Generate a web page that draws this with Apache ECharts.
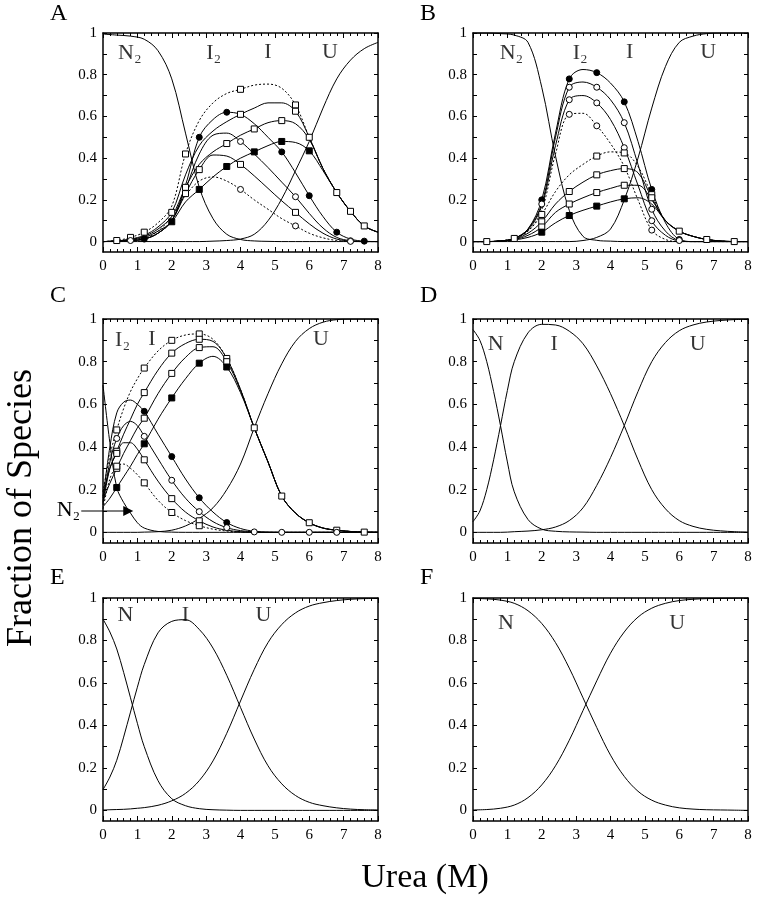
<!DOCTYPE html>
<html><head><meta charset="utf-8">
<script src="https://cdn.jsdelivr.net/npm/echarts@6/dist/echarts.min.js"></script>
<style>html,body{margin:0;padding:0;background:#fff}#c{width:759px;height:899px}</style>
</head><body><div id="c"></div>
<script>
// ---------- x grids ----------
const X04 = [0,0.4,0.8,1.2,1.6,2.0,2.4,2.8,3.2,3.6,4.0,4.4,4.8,5.2,5.6,6.0,6.4,6.8,7.2,7.6,8.0];
const X02 = [0,0.2,0.4,0.6,0.8,1.0,1.2,1.6,2.0,2.4,2.8,3.2,3.6,4.0,4.4,4.8,5.2,5.6,6.0,6.4,6.8,7.2,7.6,8.0];
const X_TICK_LABELS = [0,1,2,3,4,5,6,7,8];
const Y_LABELS = [0,0.2,0.4,0.6,0.8,1];
const Y_TICKS = [0,0.1,0.2,0.3,0.4,0.5,0.6,0.7,0.8,0.9,1];

// ---------- Panel A (X04) ----------
const A_N2  = [0.995,0.99,0.985,0.97,0.915,0.78,0.52,0.26,0.11,0.035,0.01,0.003,0.001,0,0,0,0,0,0,0,0];
const A_U   = [0,0,0,0,0,0,0,0,0.002,0.005,0.012,0.035,0.1,0.205,0.34,0.48,0.64,0.78,0.87,0.925,0.955];
const A_Ia  = [0,0.005,0.02,0.045,0.09,0.17,0.42,0.58,0.665,0.71,0.73,0.75,0.755,0.735,0.655,0.5,0.35,0.235,0.145,0.075,0.045];
const A_Ib  = [0,0.003,0.012,0.03,0.07,0.14,0.32,0.46,0.53,0.575,0.61,0.64,0.665,0.665,0.625,0.5,0.35,0.235,0.145,0.075,0.045];
const A_Ic  = [0,0.002,0.01,0.025,0.06,0.12,0.26,0.37,0.43,0.47,0.51,0.54,0.57,0.58,0.565,0.49,0.35,0.235,0.145,0.075,0.045];
const A_Id  = [0,0.002,0.008,0.02,0.05,0.095,0.19,0.25,0.31,0.36,0.4,0.43,0.46,0.48,0.475,0.435,0.34,0.235,0.145,0.075,0.045];
const A_I2a = [0,0.002,0.005,0.012,0.04,0.1,0.27,0.5,0.585,0.62,0.61,0.565,0.5,0.43,0.33,0.22,0.12,0.045,0.012,0.002,0];
const A_I2b = [0,0.002,0.005,0.012,0.04,0.1,0.25,0.42,0.51,0.52,0.48,0.42,0.355,0.285,0.215,0.135,0.065,0.02,0.004,0,0];
const A_I2c = [0,0.002,0.005,0.012,0.04,0.1,0.23,0.345,0.415,0.41,0.37,0.315,0.255,0.195,0.14,0.085,0.04,0.012,0.002,0,0];
const A_I2d = [0,0.002,0.006,0.015,0.05,0.12,0.22,0.29,0.31,0.29,0.25,0.2,0.155,0.11,0.075,0.04,0.018,0.005,0.001,0,0];

// ---------- Panel B (X04) ----------
const B_N2  = [1,1,0.997,0.99,0.955,0.74,0.41,0.15,0.025,0.006,0.002,0,0,0,0,0,0,0,0,0,0];
const B_U   = [0,0,0,0,0,0,0,0,0.005,0.02,0.06,0.2,0.4,0.64,0.84,0.955,0.985,0.997,1,1,1];
const B_I2a = [0,0,0.003,0.015,0.06,0.2,0.52,0.78,0.825,0.81,0.76,0.67,0.48,0.25,0.09,0.01,0,0,0,0,0];
const B_I2b = [0,0,0.003,0.015,0.06,0.18,0.5,0.74,0.765,0.74,0.68,0.57,0.37,0.155,0.05,0.005,0,0,0,0,0];
const B_I2c = [0,0,0.003,0.015,0.055,0.17,0.46,0.68,0.7,0.665,0.585,0.45,0.27,0.1,0.03,0.003,0,0,0,0,0];
const B_I2d = [0,0,0.003,0.015,0.05,0.15,0.42,0.61,0.615,0.555,0.47,0.36,0.2,0.055,0.01,0,0,0,0,0,0];
const B_Ia  = [0,0,0.003,0.015,0.05,0.13,0.24,0.32,0.37,0.41,0.43,0.425,0.36,0.225,0.1,0.05,0.025,0.01,0.003,0,0];
const B_Ib  = [0,0,0.003,0.012,0.04,0.095,0.18,0.24,0.285,0.32,0.34,0.35,0.33,0.21,0.1,0.05,0.025,0.01,0.003,0,0];
const B_Ic  = [0,0,0.002,0.01,0.03,0.07,0.14,0.18,0.21,0.235,0.255,0.27,0.27,0.2,0.1,0.05,0.025,0.01,0.003,0,0];
const B_Id  = [0,0,0.002,0.008,0.02,0.045,0.09,0.125,0.15,0.17,0.19,0.205,0.21,0.18,0.1,0.05,0.025,0.01,0.003,0,0];

// ---------- Panel C (X02) ----------
const C_N2  = [0.69,0.42,0.21,0.14,0.09,0.045,0.02,0.004,0.001,0,0,0,0,0,0,0,0,0,0,0,0,0,0,0];
const C_U   = [0,0,0,0,0,0,0.001,0.003,0.01,0.03,0.065,0.115,0.2,0.32,0.49,0.65,0.79,0.895,0.955,0.985,0.997,1,1,1];
const C_Ia  = [0.19,0.36,0.48,0.58,0.66,0.72,0.77,0.85,0.9,0.925,0.93,0.905,0.815,0.67,0.49,0.33,0.17,0.09,0.045,0.02,0.01,0.004,0.001,0];
const C_Ib  = [0.17,0.3,0.38,0.46,0.53,0.6,0.655,0.76,0.84,0.885,0.905,0.895,0.815,0.67,0.49,0.33,0.17,0.09,0.045,0.02,0.01,0.004,0.001,0];
const C_Ic  = [0.15,0.23,0.3,0.37,0.43,0.49,0.535,0.65,0.745,0.82,0.866,0.87,0.8,0.665,0.49,0.33,0.17,0.09,0.045,0.02,0.01,0.004,0.001,0];
const C_Id  = [0.12,0.16,0.21,0.26,0.31,0.365,0.415,0.53,0.63,0.72,0.793,0.825,0.775,0.655,0.49,0.33,0.17,0.09,0.045,0.02,0.01,0.004,0.001,0];
const C_I2a = [0.16,0.4,0.56,0.61,0.62,0.6,0.567,0.46,0.355,0.25,0.162,0.095,0.046,0.018,0.005,0.001,0,0,0,0,0,0,0,0];
const C_I2b = [0.14,0.33,0.44,0.5,0.52,0.5,0.45,0.345,0.244,0.16,0.097,0.05,0.022,0.008,0.002,0,0,0,0,0,0,0,0,0];
const C_I2c = [0.13,0.3,0.37,0.42,0.42,0.39,0.34,0.24,0.158,0.095,0.054,0.025,0.01,0.003,0,0,0,0,0,0,0,0,0,0];
const C_I2d = [0.11,0.25,0.31,0.32,0.3,0.27,0.232,0.15,0.093,0.055,0.031,0.015,0.006,0.002,0,0,0,0,0,0,0,0,0,0];

// ---------- Panel D (X02) ----------
const D_N = [0.95,0.9,0.8,0.66,0.5,0.33,0.19,0.06,0.015,0.005,0.002,0.001,0,0,0,0,0,0,0,0,0,0,0,0];
const D_I = [0.05,0.1,0.2,0.34,0.5,0.665,0.8,0.935,0.975,0.972,0.943,0.884,0.78,0.65,0.5,0.34,0.2,0.11,0.055,0.028,0.014,0.007,0.003,0.001];
const D_U = [0,0,0,0,0,0.001,0.003,0.006,0.012,0.025,0.055,0.115,0.22,0.35,0.5,0.66,0.8,0.89,0.945,0.972,0.986,0.993,0.997,0.999];

// ---------- Panel E (X02) ----------
const E_N = [0.9,0.84,0.76,0.65,0.53,0.41,0.3,0.14,0.055,0.022,0.008,0.003,0.001,0,0,0,0,0,0,0,0,0,0,0];
const E_I = [0.098,0.157,0.236,0.345,0.463,0.58,0.687,0.836,0.89,0.898,0.852,0.764,0.636,0.485,0.336,0.21,0.125,0.07,0.038,0.022,0.012,0.006,0.003,0.002];
const E_U = [0.002,0.003,0.004,0.005,0.007,0.01,0.013,0.024,0.045,0.08,0.14,0.233,0.363,0.515,0.664,0.79,0.875,0.93,0.962,0.978,0.988,0.994,0.997,0.998];

// ---------- Panel F (X04) ----------
const F_N = [0.998,0.996,0.99,0.975,0.94,0.88,0.79,0.67,0.53,0.39,0.26,0.16,0.09,0.048,0.025,0.012,0.006,0.003,0.002,0.001,0];
const F_U = [0.002,0.004,0.01,0.025,0.06,0.12,0.21,0.33,0.47,0.61,0.74,0.84,0.91,0.952,0.975,0.988,0.994,0.997,0.998,0.999,1];

// ---------- configuration ----------
const FONT = "'Liberation Serif','DejaVu Serif','Times New Roman',serif";
const L = 103, R = 473, W = 275;
const ROWS = [{top:33,h:219},{top:319,h:224},{top:598,h:223}];

const panels = [
  {letter:'A', col:L, row:0, xs:X04, curves:[
    {y:A_N2},{y:A_U},
    {y:A_Ia, dotted:true, sym:'rect', mx:[0.4,0.8,1.2,2.4,4.0,5.6]},
    {y:A_Ib, sym:'rect', mx:[2.0,4.0,5.6,6.0,6.8,7.2,7.6]},
    {y:A_Ic, sym:'rect', mx:[2.4,3.6,4.4,5.2]},
    {y:A_Id, sym:'rect', fill:true, mx:[2.0,2.8,3.6,4.4,5.2,6.0]},
    {y:A_I2a, sym:'circle', fill:true, mx:[1.2,2.8,3.6,5.2,6.0,6.8,7.6]},
    {y:A_I2b, sym:'circle', mx:[0.8,4.0,5.6,7.2]},
    {y:A_I2c, sym:'rect', mx:[2.4,2.8,4.0,5.6]},
    {y:A_I2d, dotted:true, sym:'circle', mx:[4.0,5.6,7.2]}],
   labels:[{x:0.78,y:0.905,t:'N₂'},{x:3.22,y:0.905,t:'I₂'},{x:4.8,y:0.91,t:'I'},{x:6.6,y:0.91,t:'U'}]},
  {letter:'B', col:R, row:0, xs:X04, curves:[
    {y:B_N2},{y:B_U},
    {y:B_I2a, sym:'circle', fill:true, mx:[2.0,2.8,3.6,4.4,5.2,6.0]},
    {y:B_I2b, sym:'circle', mx:[2.0,2.8,3.6,4.4,5.2,6.0]},
    {y:B_I2c, sym:'circle', mx:[2.8,3.6,4.4,5.2]},
    {y:B_I2d, dotted:true, sym:'circle', mx:[2.8,3.6,5.2]},
    {y:B_Ia, dotted:true, sym:'rect', mx:[0.4,1.2,2.0,3.6,4.4,5.2,6.0,6.8,7.6]},
    {y:B_Ib, sym:'rect', mx:[2.0,2.8,3.6,4.4,5.2]},
    {y:B_Ic, sym:'rect', mx:[2.0,2.8,3.6,4.4]},
    {y:B_Id, sym:'rect', fill:true, mx:[2.0,2.8,3.6,4.4]}],
   labels:[{x:1.12,y:0.905,t:'N₂'},{x:3.12,y:0.905,t:'I₂'},{x:4.56,y:0.91,t:'I'},{x:6.84,y:0.91,t:'U'}]},
  {letter:'C', col:L, row:1, xs:X02, curves:[
    {y:C_N2},{y:C_U},
    {y:C_Ia, dotted:true, sym:'rect', mx:[0.4,1.2,2.0,2.8,3.6,4.4,5.2,6.0,6.8,7.6]},
    {y:C_Ib, sym:'rect', mx:[0.4,1.2,2.0,2.8]},
    {y:C_Ic, sym:'rect', mx:[0.4,1.2,2.0,2.8,3.6]},
    {y:C_Id, sym:'rect', fill:true, mx:[0.4,1.2,2.0,2.8,3.6]},
    {y:C_I2a, sym:'circle', fill:true, mx:[1.2,2.0,2.8,3.6]},
    {y:C_I2b, sym:'circle', mx:[0.4,1.2,2.0,2.8,3.6,4.4,5.2,6.0,6.8]},
    {y:C_I2c, sym:'rect', mx:[0.4,1.2,2.0,2.8]},
    {y:C_I2d, dotted:true, sym:'rect', mx:[0.4,1.2,2.0,2.8]}],
   labels:[{x:0.57,y:0.9,t:'I₂'},{x:1.42,y:0.905,t:'I'},{x:6.34,y:0.905,t:'U'}]},
  {letter:'D', col:R, row:1, xs:X02, curves:[{y:D_N},{y:D_I},{y:D_U}],
   labels:[{x:0.66,y:0.88,t:'N'},{x:2.36,y:0.88,t:'I'},{x:6.54,y:0.88,t:'U'}]},
  {letter:'E', col:L, row:2, xs:X02, curves:[{y:E_N},{y:E_I},{y:E_U}],
   labels:[{x:0.65,y:0.92,t:'N'},{x:2.4,y:0.92,t:'I'},{x:4.67,y:0.92,t:'U'}]},
  {letter:'F', col:R, row:2, xs:X04, curves:[{y:F_N},{y:F_U}],
   labels:[{x:0.96,y:0.88,t:'N'},{x:5.94,y:0.88,t:'U'}]}
];

const axisLine = {show:true, onZero:false, lineStyle:{color:'#000', width:1.5}};
function xAxisCfg(gi, pos, lab){
  return {type:'value', gridIndex:gi, position:pos, min:0, max:8, interval:1,
    axisLine, axisTick:{show:true, inside:true, length:5, lineStyle:{color:'#000', width:1}},
    minorTick:{show:true, splitNumber:5, length:3, lineStyle:{color:'#000', width:1}},
    axisLabel:{show:lab, color:'#000', fontFamily:FONT, fontSize:15, margin:7,
      customValues:X_TICK_LABELS},
    splitLine:{show:false}, minorSplitLine:{show:false}};
}
function yAxisCfg(gi, pos, lab){
  return {type:'value', gridIndex:gi, position:pos, min:-0.05, max:1,
    axisLine, axisTick:{show:true, inside:true, length:4, customValues:Y_TICKS, lineStyle:{color:'#000', width:1}},
    axisLabel:{show:lab, color:'#000', fontFamily:FONT, fontSize:15, margin:6,
      customValues:Y_LABELS, formatter:v=>String(+(+v).toFixed(1))},
    splitLine:{show:false}};
}

const option = {animation:false, backgroundColor:'#fff', grid:[], xAxis:[], yAxis:[], series:[]};
panels.forEach((p, gi) => {
  const rw = ROWS[p.row];
  option.grid.push({left:p.col, top:rw.top, width:W, height:rw.h});
  const xb = option.xAxis.length, yl = option.yAxis.length;
  option.xAxis.push(xAxisCfg(gi,'bottom',true), xAxisCfg(gi,'top',false));
  option.yAxis.push(yAxisCfg(gi,'left',true), yAxisCfg(gi,'right',false));
  p.curves.forEach(c => {
    option.series.push({type:'line', xAxisIndex:xb, yAxisIndex:yl, silent:true, z:2,
      data:p.xs.map((x,i)=>[x,c.y[i]]), smooth:0.35, showSymbol:false, symbol:'none',
      lineStyle:{color:'#000', width:1, type:c.dotted?[2,2]:'solid'}});
    if (c.mx) option.series.push({type:'scatter', xAxisIndex:xb, yAxisIndex:yl, silent:true, z:5,
      symbol:c.sym, symbolSize:6,
      itemStyle:{color:c.fill?'#000':'#fff', borderColor:'#000', borderWidth:1, opacity:1},
      data:c.mx.map(x=>[x, c.y[p.xs.indexOf(x)]])});
  });
  option.series.push({type:'scatter', xAxisIndex:xb, yAxisIndex:yl, silent:true, z:6, symbolSize:0,
    data:p.labels.map(l=>({value:[l.x,l.y], label:{formatter:l.t}})),
    label:{show:true, position:'inside', color:'#000', fontFamily:FONT, fontSize:22}});
});

const chart = echarts.init(document.getElementById('c'), null, {renderer:'canvas'});
chart.setOption(option);

// annotations: panel letters, axis titles, N2 arrow in C
const letterPos = {A:[50,2], B:[420,2], C:[50,284], D:[420,284], E:[50,566], F:[420,566]};
const g = [];
panels.forEach(p => g.push({type:'text', left:letterPos[p.letter][0], top:letterPos[p.letter][1],
  style:{text:p.letter, font:`24px ${FONT}`, fill:'#000'}}));
g.push({type:'text', x:425, y:878, style:{text:'Urea (M)', font:`34px ${FONT}`, fill:'#000', textAlign:'center', textVerticalAlign:'middle'}});
g.push({type:'text', x:22, y:508, rotation:Math.PI/2, style:{text:'Fraction of Species', font:`36px ${FONT}`, fill:'#000', textAlign:'center', textVerticalAlign:'middle'}});
const tip = chart.convertToPixel({gridIndex:2}, [0.88, 0.1]);
const tail = [tip[0]-52, tip[1]];
g.push({type:'line', shape:{x1:tail[0], y1:tail[1], x2:tip[0]-8, y2:tip[1]}, style:{stroke:'#000', lineWidth:1.2}});
g.push({type:'polygon', shape:{points:[[tip[0],tip[1]],[tip[0]-10,tip[1]-5],[tip[0]-10,tip[1]+5]]}, style:{fill:'#000'}});
g.push({type:'text', x:tail[0]-1, y:tip[1]-1, style:{text:'N₂', font:`22px ${FONT}`, fill:'#000', textAlign:'right', textVerticalAlign:'middle'}});
chart.setOption({graphic:g});
</script>
</body></html>
